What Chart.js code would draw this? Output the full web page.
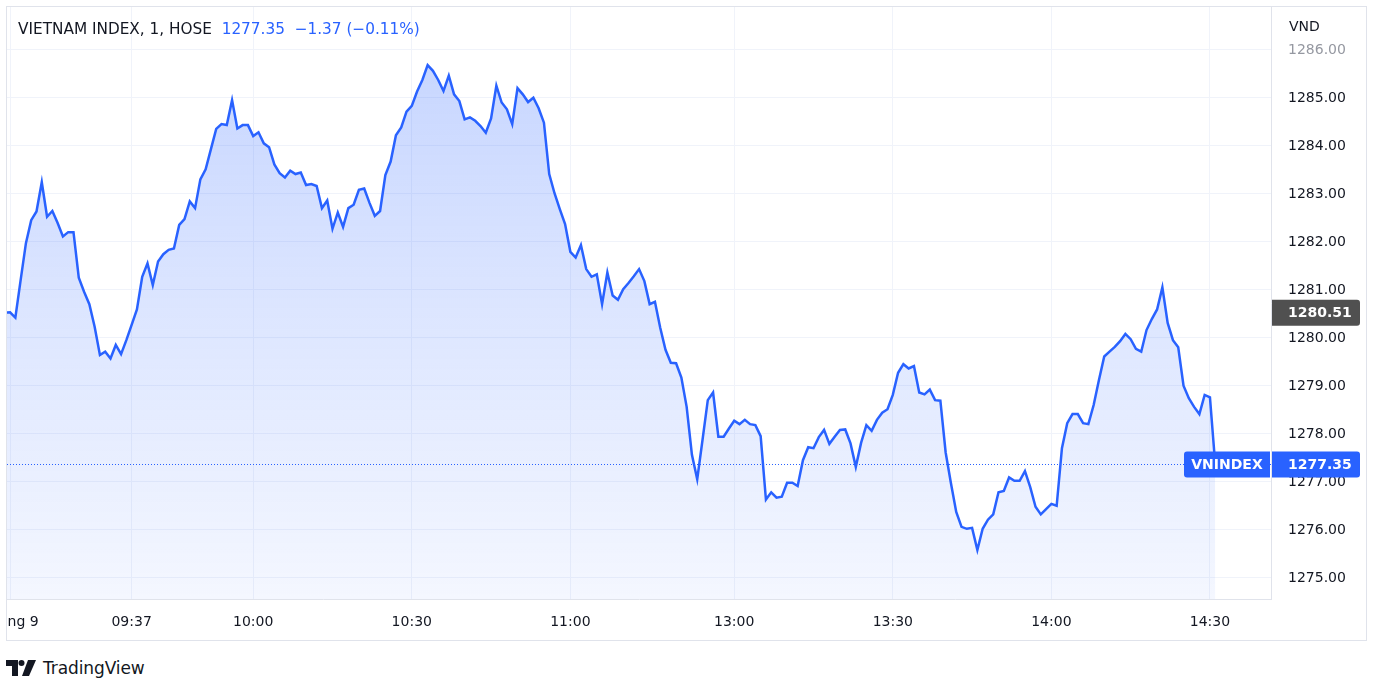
<!DOCTYPE html>
<html>
<head>
<meta charset="utf-8">
<script src="https://cdn.jsdelivr.net/npm/chart.js@4.4.1/dist/chart.umd.min.js"></script>
<style>
  html, body { margin: 0; padding: 0; background: #fff; }
  body { width: 1383px; height: 694px; position: relative; overflow: hidden;
         font-family: "DejaVu Sans", sans-serif; color: #131722; }
  #frame { position: absolute; left: 6px; top: 6px; width: 1361px; height: 635px;
           box-sizing: border-box; border: 1px solid #e0e3eb; pointer-events: none; }
  #wrap { position: absolute; left: 7px; top: 7px; width: 1359px; height: 633px; }
  #legend { position: absolute; left: 18px; top: 19px; font-size: 15.3px; white-space: pre; line-height: 20px; }
  #legend .blue { color: #2962ff; }
  #vnd { position: absolute; left: 1289px; top: 17px; font-size: 14px; line-height: 18px; }
  #logo { position: absolute; left: 6px; top: 657px; height: 22px; display: flex; align-items: center; }
  #logo span { font-size: 17px; margin-left: 7px; letter-spacing: -0.1px; }
</style>
</head>
<body>
<div id="wrap"><canvas id="myChart" width="1359" height="633"></canvas></div>
<div id="frame"></div>
<div id="legend">VIETNAM INDEX, 1, HOSE  <span class="blue">1277.35  −1.37 (−0.11%)</span></div>
<div id="vnd">VND</div>
<div id="logo">
  <svg width="30" height="16" viewBox="0 0 30 16">
    <path d="M0 0 H12 V16 H6 V6 H0 Z" fill="#131722"/>
    <circle cx="15.5" cy="3" r="3" fill="#131722"/>
    <path d="M22 0 H30 L23 16 H16 Z" fill="#131722"/>
  </svg>
  <span>TradingView</span>
</div>
<script>
// 1 phut / 1 diem, bat dau tu phut thu 13 (09:13)
const startBar = 13;
const prices = [
  1280.51, 1280.52, 1280.41, 1281.19, 1281.96, 1282.44, 1282.62, 1283.23, 1282.51, 1282.63,
  1282.38, 1282.10, 1282.19, 1282.19, 1281.24, 1280.95, 1280.69, 1280.22, 1279.63, 1279.70,
  1279.56, 1279.84, 1279.65, 1279.94, 1280.26, 1280.58, 1281.26, 1281.54, 1281.09, 1281.58,
  1281.73, 1281.82, 1281.85, 1282.34, 1282.46, 1282.83, 1282.69, 1283.29, 1283.50, 1283.92,
  1284.34, 1284.44, 1284.42, 1284.94, 1284.35, 1284.42, 1284.42, 1284.19, 1284.27, 1284.04,
  1283.96, 1283.60, 1283.42, 1283.33, 1283.47, 1283.40, 1283.43, 1283.17, 1283.19, 1283.15,
  1282.69, 1282.85, 1282.26, 1282.60, 1282.30, 1282.69, 1282.76, 1283.07, 1283.10, 1282.80,
  1282.53, 1282.63, 1283.38, 1283.66, 1284.21, 1284.37, 1284.70, 1284.82, 1285.12, 1285.36,
  1285.67, 1285.55, 1285.36, 1285.13, 1285.45, 1285.06, 1284.92, 1284.54, 1284.58, 1284.51,
  1284.40, 1284.26, 1284.56, 1285.24, 1284.89, 1284.75, 1284.44, 1285.19, 1285.06, 1284.90,
  1284.99, 1284.77, 1284.47, 1283.40, 1283.00, 1282.67, 1282.36, 1281.78, 1281.66, 1281.92,
  1281.42, 1281.26, 1281.31, 1280.69, 1281.35, 1280.87, 1280.78, 1281.00, 1281.13, 1281.27,
  1281.42, 1281.17, 1280.69, 1280.74, 1280.20, 1279.74, 1279.47, 1279.46, 1279.16, 1278.55,
  1277.55, 1277.04, 1277.86, 1278.69, 1278.85, 1277.93, 1277.93, 1278.10, 1278.26, 1278.19,
  1278.28, 1278.19, 1278.17, 1277.94, 1276.62, 1276.77, 1276.66, 1276.68, 1276.97, 1276.97,
  1276.90, 1277.44, 1277.71, 1277.69, 1277.92, 1278.07, 1277.78, 1277.93, 1278.07, 1278.08,
  1277.79, 1277.30, 1277.80, 1278.17, 1278.05, 1278.28, 1278.43, 1278.50, 1278.80, 1279.26,
  1279.44, 1279.35, 1279.40, 1278.85, 1278.81, 1278.91, 1278.69, 1278.68, 1277.60, 1276.96,
  1276.36, 1276.05, 1276.01, 1276.03, 1275.57, 1276.01, 1276.20, 1276.31, 1276.77, 1276.80,
  1277.08, 1277.01, 1277.01, 1277.21, 1276.88, 1276.47, 1276.31, 1276.42, 1276.53, 1276.49,
  1277.69, 1278.21, 1278.40, 1278.40, 1278.21, 1278.19, 1278.59, 1279.11, 1279.60, 1279.70,
  1279.80, 1279.92, 1280.07, 1279.96, 1279.76, 1279.70, 1280.15, 1280.38, 1280.58, 1281.04,
  1280.30, 1279.94, 1279.79, 1278.99, 1278.73, 1278.55, 1278.40, 1278.80, 1278.75, 1277.35
];

const timeTicks = [14, 37, 60, 90, 120, 151, 181, 211, 241];
const timeLabels = ['Tháng 9', '09:37', '10:00', '10:30', '11:00', '13:00', '13:30', '14:00', '14:30'];
const priceTicks = [1275, 1276, 1277, 1278, 1279, 1280, 1281, 1282, 1283, 1284, 1285, 1286];

const firstValue = 1280.51;
const lastClose = 1277.35;
const symbolName = 'VNINDEX';

const xRange = [13.42, 252.55];
const yRange = [1274.548, 1286.88];

const blue = '#2962ff';
const fontFam = '"DejaVu Sans", sans-serif';

// duong cham ngang + nhan gia tren truc
const priceLabels = {
  id: 'priceLabels',
  beforeDatasetsDraw(chart) {
    const { ctx, chartArea } = chart;
    const yc = Math.round(chart.scales.y.getPixelForValue(lastClose)) + 0.5;
    ctx.save();
    ctx.strokeStyle = blue;
    ctx.lineWidth = 1;
    ctx.setLineDash([1, 2]);
    ctx.beginPath();
    ctx.moveTo(chartArea.left, yc);
    ctx.lineTo(chartArea.right, yc);
    ctx.stroke();
    ctx.restore();
  },
  afterDraw(chart) {
    const { ctx } = chart;
    const y = chart.scales.y;
    const boxX = y.left + 1;
    const boxW = 88;
    const h = 26;

    function axisBox(value, color) {
      const py = y.getPixelForValue(value);
      ctx.fillStyle = color;
      ctx.beginPath();
      ctx.roundRect(boxX, py - h / 2, boxW, h, [0, 3, 3, 0]);
      ctx.fill();
      ctx.fillStyle = '#fff';
      ctx.textAlign = 'left';
      ctx.textBaseline = 'middle';
      ctx.fillText(value.toFixed(2), y.left + 17, py + 1);
    }

    ctx.save();
    ctx.font = 'bold 14px ' + fontFam;
    axisBox(firstValue, '#505050');
    axisBox(lastClose, blue);

    const py = y.getPixelForValue(lastClose);
    ctx.fillStyle = blue;
    ctx.beginPath();
    ctx.roundRect(y.left - 87, py - h / 2, 86, h, [3, 0, 0, 3]);
    ctx.fill();
    ctx.fillStyle = '#fff';
    ctx.textAlign = 'center';
    ctx.fillText(symbolName, y.left - 44, py + 1);
    ctx.restore();
  }
};

const ctx = document.getElementById('myChart').getContext('2d');

new Chart(ctx, {
  type: 'line',
  data: {
    datasets: [{
      data: prices.map((p, i) => ({ x: startBar + i, y: p })),
      borderColor: blue,
      borderWidth: 2.5,
      pointRadius: 0,
      tension: 0,
      fill: 'start',
      backgroundColor: (c) => {
        const area = c.chart.chartArea;
        if (!area) return 'rgba(41,98,255,0.2)';
        const g = c.chart.ctx.createLinearGradient(0, area.top, 0, area.bottom);
        g.addColorStop(0, 'rgba(41,98,255,0.28)');
        g.addColorStop(1, 'rgba(41,98,255,0.05)');
        return g;
      }
    }]
  },
  options: {
    responsive: false,
    animation: false,
    layout: { padding: 0 },
    plugins: { legend: { display: false }, tooltip: { enabled: false } },
    scales: {
      x: {
        type: 'linear',
        min: xRange[0],
        max: xRange[1],
        afterBuildTicks: (s) => { s.ticks = timeTicks.map(v => ({ value: v })); },
        afterFit: (s) => { s.height = 41; s.paddingLeft = 0; s.paddingRight = 0; },
        grid: { color: '#f0f3fa', drawTicks: false },
        border: { color: '#e0e3eb' },
        ticks: {
          autoSkip: false,
          maxRotation: 0,
          padding: 15,
          color: '#131722',
          font: { family: fontFam, size: 14 },
          callback: (v, i) => timeLabels[i]
        }
      },
      y: {
        position: 'right',
        min: yRange[0],
        max: yRange[1],
        afterBuildTicks: (s) => { s.ticks = priceTicks.map(v => ({ value: v })); },
        afterFit: (s) => { s.width = 95; s.paddingTop = 0; s.paddingBottom = 0; },
        grid: { color: '#f0f3fa', drawTicks: false },
        border: { color: '#e0e3eb' },
        ticks: {
          padding: 17,
          labelOffset: 1.5,
          color: (c) => c.tick.value === 1286 ? '#9598a1' : '#131722',
          font: { family: fontFam, size: 14 },
          callback: (v) => v.toFixed(2)
        }
      }
    }
  },
  plugins: [priceLabels]
});
</script>
</body>
</html>
